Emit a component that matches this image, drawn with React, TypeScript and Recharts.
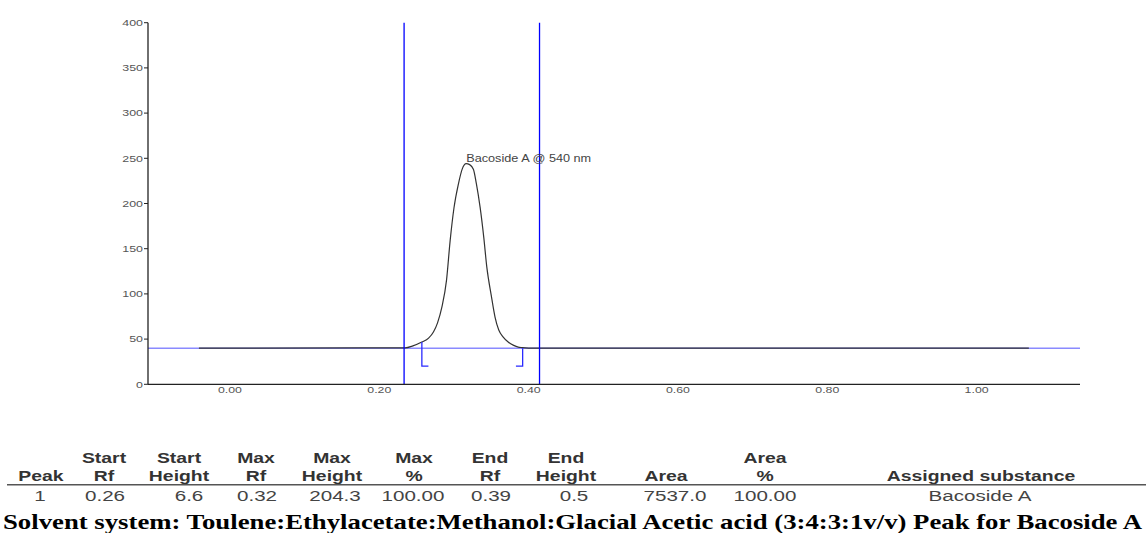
import React from 'react';
import { LineChart, Line, XAxis, YAxis, ReferenceLine, ReferenceDot } from 'recharts';

// ---- chart data ----
const signalRf = [-0.0416, 0.2346, 0.245, 0.257, 0.266, 0.2725, 0.278, 0.2838, 0.29, 0.2949, 0.3, 0.306, 0.311, 0.3164, 0.321, 0.326, 0.33, 0.335, 0.34, 0.344, 0.35, 0.355, 0.36, 0.366, 0.373, 0.38, 0.386, 0.391, 0.4, 1.07];
const signalAU = [40, 40.3, 42.5, 46.7, 51, 57.8, 68, 85.4, 115, 159, 195, 221.8, 238, 244, 243, 238, 222, 196, 162, 129.6, 98, 74.4, 60, 52.3, 46.5, 43.1, 41.2, 40.6, 40.1, 40];
const baselineRf = [-0.1098, 1.1385];
const baselineAU = [40, 40];
const startBracketRf = [0.257, 0.257, 0.2658];
const startBracketAU = [46.7, 20.2, 20.2];
const endBracketRf = [0.383, 0.392, 0.392];
const endBracketAU = [20.2, 20.2, 40];
const integrationWindow = [0.2332, 0.4146];
const peakRf = 0.3164;
const peakAU = 244;
const peakLabel = 'Bacoside A @ 540 nm';
const xTicks = [0, 0.2, 0.4, 0.6, 0.8, 1.0];
const yTicks = [0, 50, 100, 150, 200, 250, 300, 350, 400];

// ---- table data ----
const headerTop = ['', 'Start', 'Start', 'Max', 'Max', 'Max', 'End', 'End', '', 'Area', ''];
const headerBottom = ['Peak', 'Rf', 'Height', 'Rf', 'Height', '%', 'Rf', 'Height', 'Area', '%', 'Assigned substance'];
const rowValues = ['1', '0.26', '6.6', '0.32', '204.3', '100.00', '0.39', '0.5', '7537.0', '100.00', 'Bacoside A'];
const caption = 'Solvent system: Toulene:Ethylacetate:Methanol:Glacial Acetic acid (3:4:3:1v/v) Peak for Bacoside A';

// layout (positions only)
const headerCenters = [41, 104, 179, 256, 332, 414, 490, 566, 666, 765, 981];
const valueCenters = [40, 105, 189, 257, 335, 413, 491, 574, 675, 765, 980];

const zip = (xs: number[], ys: number[]) => xs.map((x, i) => ({ x, y: ys[i] }));
const signal = zip(signalRf, signalAU);
const baseline = zip(baselineRf, baselineAU);
const startBracket = zip(startBracketRf, startBracketAU);
const endBracket = zip(endBracketRf, endBracketAU);

const SANS = '"Liberation Sans", Arial, Helvetica, sans-serif';
const SERIF = '"Liberation Serif", "Times New Roman", serif';

const XTick = (props: any) => {
  const { x, y, payload } = props;
  return (
    <text transform={`translate(${x},${y + 9}) scale(1.34,1)`} textAnchor="middle" fontSize={9.2} fill="#555" fontFamily={SANS}>
      {Number(payload.value).toFixed(2)}
    </text>
  );
};

const YTick = (props: any) => {
  const { x, y, payload } = props;
  return (
    <text transform={`translate(${x},${y + 3.2}) scale(1.38,1)`} textAnchor="end" fontSize={9} fill="#555" fontFamily={SANS}>
      {payload.value}
    </text>
  );
};

const PeakLabel = (props: any) => {
  const { cx, cy } = props;
  return (
    <text x={cx} y={cy - 2} fontSize={10.5} fill="#444" fontFamily={SANS} textLength={125} lengthAdjust="spacingAndGlyphs">
      {peakLabel}
    </text>
  );
};

const T = ({ cx, y, text, bold, sx, size, fill }: any) => (
  <text transform={`translate(${cx},${y}) scale(${sx},1)`} textAnchor="middle" fontSize={size} fontWeight={bold ? 'bold' : 'normal'} fill={fill} fontFamily={SANS}>
    {text}
  </text>
);

export default function App() {
  return (
    <div style={{ position: 'absolute', left: 0, top: 0, width: 1146, height: 533, background: '#fff' }}>
      <div style={{ position: 'absolute', left: 0, top: 0 }}>
        <LineChart width={1146} height={400} margin={{ top: 22.7, right: 66, left: 0, bottom: 0 }}>
          <XAxis
            dataKey="x"
            type="number"
            domain={[-0.1098, 1.1385]}
            ticks={xTicks}
            allowDataOverflow
            height={15.7}
            tickLine={false}
            tickSize={0}
            tickMargin={0}
            tick={<XTick />}
            axisLine={{ stroke: '#222', strokeWidth: 1.3 }}
            interval={0}
          />
          <YAxis
            dataKey="y"
            type="number"
            domain={[0, 400]}
            ticks={yTicks}
            allowDataOverflow
            width={148}
            tickSize={4}
            tickMargin={1}
            tick={<YTick />}
            tickLine={{ stroke: '#222' }}
            axisLine={{ stroke: '#222', strokeWidth: 1.3 }}
            interval={0}
          />
          <Line data={baseline} dataKey="y" type="linear" stroke="#8a8aff" strokeWidth={1.5} dot={false} activeDot={false} isAnimationActive={false} />
          <Line data={signal} dataKey="y" type="monotone" stroke="#333" strokeWidth={1.2} dot={false} activeDot={false} isAnimationActive={false} />
          <Line data={startBracket} dataKey="y" type="linear" stroke="#2a2aff" strokeWidth={1.3} dot={false} activeDot={false} isAnimationActive={false} />
          <Line data={endBracket} dataKey="y" type="linear" stroke="#2a2aff" strokeWidth={1.3} dot={false} activeDot={false} isAnimationActive={false} />
          <ReferenceLine x={integrationWindow[0]} stroke="#0000ff" strokeWidth={1.3} />
          <ReferenceLine x={integrationWindow[1]} stroke="#0000ff" strokeWidth={1.3} />
          <ReferenceDot x={peakRf} y={peakAU} r={0} shape={<PeakLabel />} />
        </LineChart>
      </div>
      <svg width={1146} height={533} style={{ position: 'absolute', left: 0, top: 0, pointerEvents: 'none' }}>
        {headerTop.map((h, i) => h ? <T key={'t' + i} cx={headerCenters[i]} y={463.3} text={h} bold sx={1.26} size={15.4} fill="#333" /> : null)}
        {headerBottom.map((h, i) => <T key={'b' + i} cx={headerCenters[i]} y={481} text={h} bold sx={1.26} size={15.4} fill="#333" />)}
        <line x1={7} x2={1146} y1={484.7} y2={484.7} stroke="#555" strokeWidth={1.4} />
        {rowValues.map((v, i) => <T key={'v' + i} cx={valueCenters[i]} y={500.5} text={v} sx={1.33} size={15.5} fill="#444" />)}
        <text x={3} y={529} fontSize={21} fontWeight="bold" fontFamily={SERIF} fill="#000" textLength={1139} lengthAdjust="spacingAndGlyphs">
          {caption}
        </text>
      </svg>
    </div>
  );
}
